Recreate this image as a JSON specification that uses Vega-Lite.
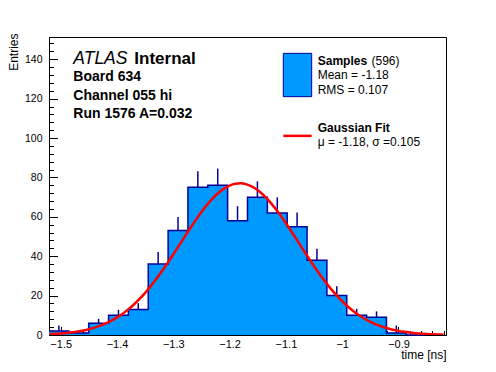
{
  "$schema": "https://vega.github.io/schema/vega-lite/v6.json",
  "width": 397,
  "height": 298,
  "autosize": {"type": "none"},
  "padding": {"left": 49, "top": 37, "right": 50, "bottom": 37},
  "background": "white",
  "config": {
    "view": {"stroke": "black", "strokeWidth": 1},
    "axis": {
      "labelFont": "Liberation Sans", "titleFont": "Liberation Sans",
      "labelColor": "black", "titleColor": "black", "domainColor": "black", "tickColor": "black",
      "grid": false, "labelFontSize": 10.5, "titleFontSize": 12, "titleFontWeight": "normal",
      "domainWidth": 1, "tickWidth": 1, "labelFlush": false, "labelOverlap": false
    },
    "text": {"font": "Liberation Sans", "align": "left", "baseline": "alphabetic", "color": "black"}
  },
  "datasets": {
    "hist": [
      {"lo": -1.5208, "c": -1.5032, "n": 2, "up": 4.8},
      {"lo": -1.4855, "c": -1.4679, "n": 1, "up": 2},
      {"lo": -1.4503, "c": -1.4327, "n": 6, "up": 8.2},
      {"lo": -1.4150, "c": -1.3974, "n": 10, "up": 12.8},
      {"lo": -1.3798, "c": -1.3622, "n": 13, "up": 16.2},
      {"lo": -1.3445, "c": -1.3269, "n": 36, "up": 42.1},
      {"lo": -1.3092, "c": -1.2916, "n": 53, "up": 59.9},
      {"lo": -1.2740, "c": -1.2564, "n": 75, "up": 83.2},
      {"lo": -1.2387, "c": -1.2211, "n": 76, "up": 84.5},
      {"lo": -1.2035, "c": -1.1859, "n": 58, "up": 65.4},
      {"lo": -1.1682, "c": -1.1506, "n": 70, "up": 78},
      {"lo": -1.1329, "c": -1.1153, "n": 62, "up": 69.9},
      {"lo": -1.0977, "c": -1.0801, "n": 55, "up": 62.2},
      {"lo": -1.0624, "c": -1.0448, "n": 38, "up": 43.8},
      {"lo": -1.0272, "c": -1.0096, "n": 20, "up": 24.7},
      {"lo": -0.9919, "c": -0.9743, "n": 10, "up": 13.3},
      {"lo": -0.9566, "c": -0.9390, "n": 9, "up": 12},
      {"lo": -0.9214, "c": -0.9038, "n": 1, "up": 4.8},
      {"lo": -0.8861, "c": -0.8685, "n": 0, "up": 0},
      {"lo": -0.8509, "c": -0.8333, "n": 0, "up": 0}
    ],
    "fit": [
      {"v": -1.52, "g": 0.43}, {"v": -1.51, "g": 0.59}, {"v": -1.50, "g": 0.78}, {"v": -1.49, "g": 1.04},
      {"v": -1.48, "g": 1.37}, {"v": -1.47, "g": 1.79}, {"v": -1.46, "g": 2.31}, {"v": -1.45, "g": 2.96},
      {"v": -1.44, "g": 3.76}, {"v": -1.43, "g": 4.73}, {"v": -1.42, "g": 5.90}, {"v": -1.41, "g": 7.29},
      {"v": -1.40, "g": 8.92}, {"v": -1.39, "g": 10.83}, {"v": -1.38, "g": 13.01}, {"v": -1.37, "g": 15.50},
      {"v": -1.36, "g": 18.30}, {"v": -1.35, "g": 21.41}, {"v": -1.34, "g": 24.82}, {"v": -1.33, "g": 28.51},
      {"v": -1.32, "g": 32.46}, {"v": -1.31, "g": 36.62}, {"v": -1.30, "g": 40.95}, {"v": -1.29, "g": 45.36},
      {"v": -1.28, "g": 49.81}, {"v": -1.27, "g": 54.19}, {"v": -1.26, "g": 58.44}, {"v": -1.25, "g": 62.43},
      {"v": -1.24, "g": 66.10}, {"v": -1.23, "g": 69.36}, {"v": -1.22, "g": 72.12}, {"v": -1.21, "g": 74.31},
      {"v": -1.20, "g": 75.88}, {"v": -1.19, "g": 76.78}, {"v": -1.18, "g": 76.99}, {"v": -1.17, "g": 76.50},
      {"v": -1.16, "g": 75.33}, {"v": -1.15, "g": 73.51}, {"v": -1.14, "g": 71.08}, {"v": -1.13, "g": 68.11},
      {"v": -1.12, "g": 64.68}, {"v": -1.11, "g": 60.87}, {"v": -1.10, "g": 56.76}, {"v": -1.09, "g": 52.45},
      {"v": -1.08, "g": 48.04}, {"v": -1.07, "g": 43.59}, {"v": -1.06, "g": 39.21}, {"v": -1.05, "g": 34.94},
      {"v": -1.04, "g": 30.85}, {"v": -1.03, "g": 27.00}, {"v": -1.02, "g": 23.42}, {"v": -1.01, "g": 20.13},
      {"v": -1.00, "g": 17.14}, {"v": -0.99, "g": 14.47}, {"v": -0.98, "g": 12.10}, {"v": -0.97, "g": 10.03},
      {"v": -0.96, "g": 8.24}, {"v": -0.95, "g": 6.71}, {"v": -0.94, "g": 5.41}, {"v": -0.93, "g": 4.32},
      {"v": -0.92, "g": 3.42}, {"v": -0.91, "g": 2.69}, {"v": -0.90, "g": 2.09}, {"v": -0.89, "g": 1.61},
      {"v": -0.88, "g": 1.23}, {"v": -0.87, "g": 0.93}, {"v": -0.86, "g": 0.70}, {"v": -0.85, "g": 0.52},
      {"v": -0.84, "g": 0.38}, {"v": -0.83, "g": 0.28}, {"v": -0.82, "g": 0.20}
    ]
  },
  "layer": [
    {
      "data": {"name": "hist"},
      "mark": {"type": "area", "interpolate": "step-after", "color": "#0099ff"},
      "encoding": {
        "x": {"field": "lo", "type": "quantitative",
          "scale": {"domain": [-1.5208, -0.8156], "nice": false, "zero": false},
          "axis": {"orient": "bottom", "values": [-1.5, -1.4, -1.3, -1.2, -1.1, -1.0, -0.9], "format": ".1~f",
            "labelFontSize": 11,
            "tickSize": -8.5, "labelPadding": 11.5, "title": "time [ns]", "titleAnchor": "end", "titleAlign": "right",
            "titleX": 397, "titleY": 23, "titleBaseline": "alphabetic"}},
        "y": {"field": "n", "type": "quantitative",
          "scale": {"domain": [0, 151.3], "nice": false, "zero": true},
          "axis": {"orient": "left", "values": [0, 20, 40, 60, 80, 100, 120, 140], "format": "d",
            "tickSize": -8.5, "labelPadding": 15.5, "title": "Entries", "titleAngle": -90, "titleAlign": "right",
            "titleAnchor": "end", "titleX": -32, "titleY": -4, "titleBaseline": "alphabetic"}}
      }
    },
    {
      "data": {"name": "hist"},
      "mark": {"type": "line", "interpolate": "step-after", "color": "#000099", "strokeWidth": 1.5},
      "encoding": {
        "x": {"field": "lo", "type": "quantitative",
          "scale": {"domain": [-1.5208, -0.8156], "nice": false, "zero": false},
          "axis": {"orient": "bottom", "values": [-1.52, -1.5, -1.48, -1.46, -1.44, -1.42, -1.4, -1.38, -1.36, -1.34, -1.32, -1.3, -1.28, -1.26, -1.24, -1.22, -1.2, -1.18, -1.16, -1.14, -1.12, -1.1, -1.08, -1.06, -1.04, -1.02, -1.0, -0.98, -0.96, -0.94, -0.92, -0.9, -0.88, -0.86, -0.84, -0.82],
            "tickSize": -4.5, "labels": false, "domain": false, "title": null}},
        "y": {"field": "n", "type": "quantitative",
          "scale": {"domain": [0, 151.3], "nice": false, "zero": true},
          "axis": {"orient": "left", "values": [0, 4, 8, 12, 16, 20, 24, 28, 32, 36, 40, 44, 48, 52, 56, 60, 64, 68, 72, 76, 80, 84, 88, 92, 96, 100, 104, 108, 112, 116, 120, 124, 128, 132, 136, 140, 144, 148],
            "tickSize": -4.5, "labels": false, "domain": false, "title": null}}
      }
    },
    {
      "data": {"name": "hist"},
      "mark": {"type": "rule", "color": "#000099", "strokeWidth": 1.5},
      "encoding": {
        "x": {"field": "c", "type": "quantitative", "scale": {"domain": [-1.5208, -0.8156], "nice": false, "zero": false}, "axis": null},
        "y": {"field": "n", "type": "quantitative", "scale": {"domain": [0, 151.3], "nice": false, "zero": true}, "axis": null},
        "y2": {"field": "up"}
      }
    },
    {
      "data": {"name": "fit"},
      "mark": {"type": "line", "interpolate": "monotone", "color": "#ff0000", "strokeWidth": 2.5, "clip": true},
      "encoding": {
        "x": {"field": "v", "type": "quantitative", "scale": {"domain": [-1.5208, -0.8156], "nice": false, "zero": false}, "axis": null},
        "y": {"field": "g", "type": "quantitative", "scale": {"domain": [0, 151.3], "nice": false, "zero": true}, "axis": null}
      }
    },
    {
      "data": {"values": [{"x": -1.1046, "x2": -1.0542, "y": 143.0, "y2": 121.0}]},
      "mark": {"type": "rect", "fill": "#0099ff", "stroke": "#000099", "strokeWidth": 1},
      "encoding": {
        "x": {"field": "x", "type": "quantitative", "scale": {"domain": [-1.5208, -0.8156], "nice": false, "zero": false}, "axis": null},
        "x2": {"field": "x2"},
        "y": {"field": "y", "type": "quantitative", "scale": {"domain": [0, 151.3], "nice": false, "zero": true}, "axis": null},
        "y2": {"field": "y2"}
      }
    },
    {
      "data": {"values": [{"x": -1.1046, "x2": -1.0542, "y": 101.1}]},
      "mark": {"type": "rule", "color": "#ff0000", "strokeWidth": 2.5},
      "encoding": {
        "x": {"field": "x", "type": "quantitative", "scale": {"domain": [-1.5208, -0.8156], "nice": false, "zero": false}, "axis": null},
        "x2": {"field": "x2"},
        "y": {"field": "y", "type": "quantitative", "scale": {"domain": [0, 151.3], "nice": false, "zero": true}, "axis": null}
      }
    },
    {
      "data": {"values": [
        {"x": -0.9480, "y": 137.1, "t": "(596)"},
        {"x": -1.0435, "y": 130.0, "t": "Mean = -1.18"},
        {"x": -1.0435, "y": 122.4, "t": "RMS = 0.107"},
        {"x": -1.0435, "y": 96.0, "t": "μ = -1.18, σ =0.105"}
      ]},
      "mark": {"type": "text", "fontSize": 12},
      "encoding": {
        "x": {"field": "x", "type": "quantitative", "scale": {"domain": [-1.5208, -0.8156], "nice": false, "zero": false}, "axis": null},
        "y": {"field": "y", "type": "quantitative", "scale": {"domain": [0, 151.3], "nice": false, "zero": true}, "axis": null},
        "text": {"field": "t"}
      }
    },
    {
      "data": {"values": [
        {"x": -1.0435, "y": 137.1, "t": "Samples"},
        {"x": -1.0435, "y": 103.1, "t": "Gaussian Fit"}
      ]},
      "mark": {"type": "text", "fontSize": 12, "fontWeight": "bold"},
      "encoding": {
        "x": {"field": "x", "type": "quantitative", "scale": {"domain": [-1.5208, -0.8156], "nice": false, "zero": false}, "axis": null},
        "y": {"field": "y", "type": "quantitative", "scale": {"domain": [0, 151.3], "nice": false, "zero": true}, "axis": null},
        "text": {"field": "t"}
      }
    },
    {
      "data": {"values": [
        {"x": -1.4776, "y": 129.0, "t": "Board 634"},
        {"x": -1.4776, "y": 119.3, "t": "Channel 055 hi"},
        {"x": -1.4776, "y": 110.1, "t": "Run 1576 A=0.032"}
      ]},
      "mark": {"type": "text", "fontSize": 14, "fontWeight": "bold"},
      "encoding": {
        "x": {"field": "x", "type": "quantitative", "scale": {"domain": [-1.5208, -0.8156], "nice": false, "zero": false}, "axis": null},
        "y": {"field": "y", "type": "quantitative", "scale": {"domain": [0, 151.3], "nice": false, "zero": true}, "axis": null},
        "text": {"field": "t"}
      }
    },
    {
      "data": {"values": [{"x": -1.4776, "y": 137.6, "t": "ATLAS"}]},
      "mark": {"type": "text", "fontSize": 17.5, "fontStyle": "italic"},
      "encoding": {
        "x": {"field": "x", "type": "quantitative", "scale": {"domain": [-1.5208, -0.8156], "nice": false, "zero": false}, "axis": null},
        "y": {"field": "y", "type": "quantitative", "scale": {"domain": [0, 151.3], "nice": false, "zero": true}, "axis": null},
        "text": {"field": "t"}
      }
    },
    {
      "data": {"values": [{"x": -1.3693, "y": 137.6, "t": "Internal"}]},
      "mark": {"type": "text", "fontSize": 17, "fontWeight": "bold"},
      "encoding": {
        "x": {"field": "x", "type": "quantitative", "scale": {"domain": [-1.5208, -0.8156], "nice": false, "zero": false}, "axis": null},
        "y": {"field": "y", "type": "quantitative", "scale": {"domain": [0, 151.3], "nice": false, "zero": true}, "axis": null},
        "text": {"field": "t"}
      }
    }
  ],
  "resolve": {"axis": {"x": "independent", "y": "independent"}}
}
